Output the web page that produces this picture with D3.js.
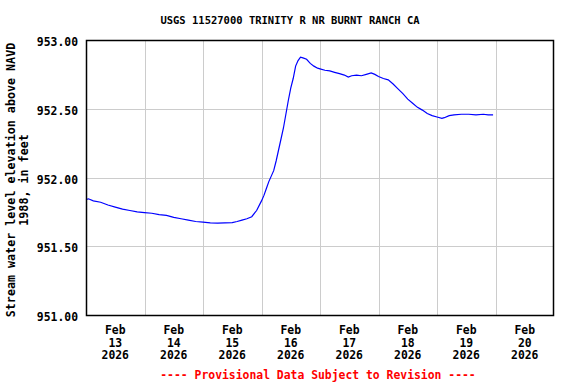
<!DOCTYPE html>
<html>
<head>
<meta charset="utf-8">
<script src="https://cdn.jsdelivr.net/npm/d3@7"></script>
<style>
  body { margin: 0; background: #fff; }
  text { font-family: "DejaVu Sans Mono", monospace; font-weight: bold; }
</style>
</head>
<body>
<svg id="chart" width="576" height="384"></svg>
<script>
// hours since Feb 13 2026 00:00 and stage
var hours = [0, 1, 3, 6, 9, 12, 15, 18, 21, 24, 27, 30, 33, 36, 39, 42, 45, 48, 51, 54, 57, 60, 62, 64, 66, 68, 70, 72,
  73, 74, 75, 76, 77, 78, 79, 80, 81, 82, 83, 84, 85, 86, 87, 88, 89, 90.5, 92, 93.5, 95, 96, 98, 100, 102, 104, 106,
  107.6, 109, 111, 113, 115, 117, 118.5, 120, 122, 124, 126, 128, 130, 132, 134, 136, 138, 140, 142, 144, 146, 147,
  149, 151, 154, 157, 160, 163, 165, 167];
var levels = [951.84, 951.845, 951.83, 951.82, 951.80, 951.785, 951.77, 951.76, 951.75, 951.745, 951.74, 951.73,
  951.725, 951.71, 951.70, 951.69, 951.68, 951.675, 951.67, 951.668, 951.67, 951.672, 951.68, 951.69, 951.70, 951.715,
  951.76, 951.83, 951.87, 951.92, 951.97, 952.01, 952.05, 952.12, 952.20, 952.28, 952.36, 952.46, 952.56, 952.65,
  952.72, 952.81, 952.85, 952.875, 952.87, 952.86, 952.83, 952.81, 952.795, 952.79, 952.78, 952.775, 952.765, 952.755,
  952.745, 952.73, 952.74, 952.745, 952.74, 952.75, 952.76, 952.75, 952.735, 952.72, 952.71, 952.68, 952.645, 952.61,
  952.57, 952.54, 952.51, 952.49, 952.465, 952.45, 952.44, 952.43, 952.435, 952.45, 952.455, 952.46, 952.46, 952.455,
  952.46, 952.455, 952.455];
var yTicks = [951.0, 951.5, 952.0, 952.5, 953.0];
var dayLabels = ["13", "14", "15", "16", "17", "18", "19", "20"];

var t0 = Date.UTC(2026, 1, 13);
var plotLeft = 86, plotRight = 554, plotTop = 40, plotBottom = 315;

var svg = d3.select("#chart");

var x = d3.scaleUtc()
  .domain([new Date(t0), new Date(t0 + 8 * 24 * 3600e3)])
  .range([plotLeft, plotRight]);
var y = d3.scaleLinear().domain([951, 953]).range([plotBottom, plotTop]);

var data = hours.map(function(h, i) {
  return { t: new Date(t0 + h * 3600e3), v: levels[i] };
});

// grid
var days = d3.utcDay.range(new Date(t0 + 1), new Date(t0 + 8 * 24 * 3600e3));
svg.append("g").selectAll("line").data(days).enter().append("line")
  .attr("x1", function(d) { return Math.round(x(d)) + 0.5; })
  .attr("x2", function(d) { return Math.round(x(d)) + 0.5; })
  .attr("y1", plotTop).attr("y2", plotBottom)
  .attr("stroke", "#cccccc").attr("stroke-width", 1);
svg.append("g").selectAll("line").data(yTicks).enter().append("line")
  .attr("x1", plotLeft).attr("x2", plotRight)
  .attr("y1", function(d) { return Math.round(y(d)) + 0.5; })
  .attr("y2", function(d) { return Math.round(y(d)) + 0.5; })
  .attr("stroke", "#cccccc").attr("stroke-width", 1);

// data line
svg.append("path").datum(data)
  .attr("fill", "none")
  .attr("stroke", "#0000ff")
  .attr("stroke-width", 1.2)
  .attr("d", d3.line().x(function(d) { return x(d.t); }).y(function(d) { return y(d.v); }));

// frame
svg.append("rect")
  .attr("x", plotLeft + 0.5).attr("y", plotTop + 0.5)
  .attr("width", plotRight - plotLeft - 1).attr("height", plotBottom - plotTop)
  .attr("fill", "none").attr("stroke", "#000").attr("stroke-width", 1.5);

// y tick labels
svg.append("g").selectAll("text").data(yTicks).enter().append("text")
  .attr("x", 78).attr("y", function(d) { return y(d) + 6; })
  .attr("text-anchor", "end")
  .style("font-size", "11.4px")
  .text(function(d) { return d3.format(".2f")(d); });

// x tick labels, centred on each day
var xl = svg.append("g").selectAll("text").data(dayLabels).enter().append("text")
  .attr("text-anchor", "middle")
  .style("font-size", "11.4px")
  .attr("transform", function(d, i) {
    return "translate(" + x(new Date(t0 + (i + 0.5) * 24 * 3600e3)) + ",334)";
  });
xl.append("tspan").attr("x", 0).attr("y", 0).text("Feb");
xl.append("tspan").attr("x", 0).attr("y", 12.5).text(function(d) { return d; });
xl.append("tspan").attr("x", 0).attr("y", 25).text("2026");

// title
svg.append("text").attr("x", 290).attr("y", 24)
  .attr("text-anchor", "middle").style("font-size", "10.5px")
  .text("USGS 11527000 TRINITY R NR BURNT RANCH CA");

// y axis title
var yt = svg.append("text")
  .attr("transform", "translate(0,180) rotate(-90)")
  .attr("text-anchor", "middle").style("font-size", "11.7px");
yt.append("tspan").attr("x", 0).attr("y", 15).text("Stream water level elevation above NAVD");
yt.append("tspan").attr("x", 0).attr("y", 28).text("1988, in feet");

// footer
svg.append("text").attr("x", 318).attr("y", 379)
  .attr("text-anchor", "middle").style("font-size", "11.4px")
  .attr("fill", "#ff0000")
  .text("---- Provisional Data Subject to Revision ----");
</script>
</body>
</html>
